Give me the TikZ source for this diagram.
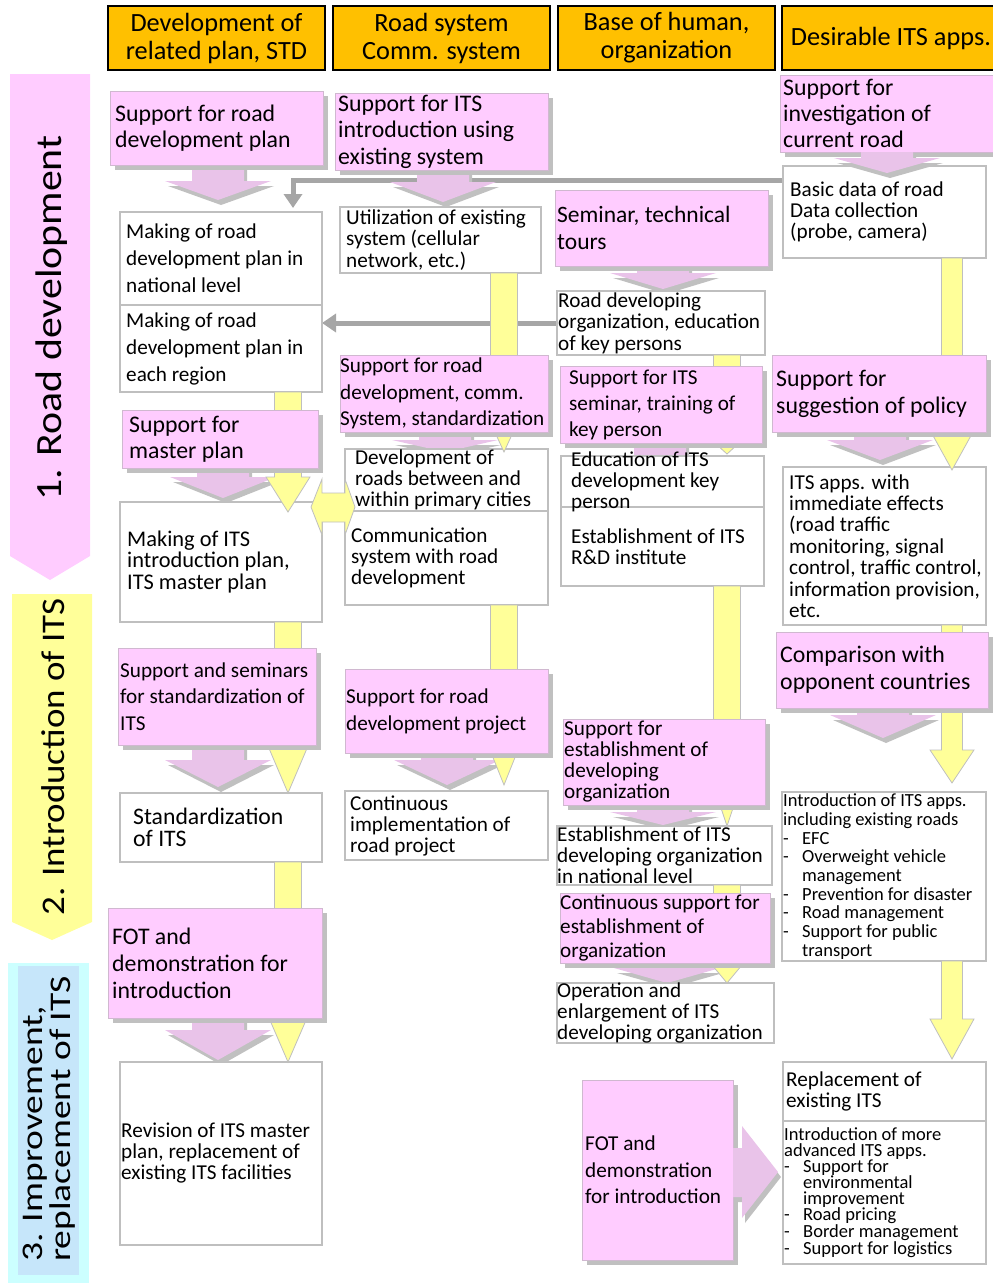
\documentclass[tikz,border=0pt]{standalone}
\usepackage{fontspec}
\usepackage{graphicx}
\setmainfont{Carlito}
\usetikzlibrary{calc,shadows,arrows.meta}
\pgfdeclarelayer{under}
\pgfdeclarelayer{over}
\pgfsetlayers{under,main,over}
\definecolor{hdror}{HTML}{FFC000}
\definecolor{pk}{HTML}{FFCCFF}
\definecolor{pkbd}{HTML}{D0B8D0}
\definecolor{chv}{HTML}{E9C3E9}
\definecolor{yl}{HTML}{FFFF99}
\definecolor{gr}{HTML}{A6A6A6}
\definecolor{bd}{HTML}{BFBFBF}
\definecolor{shd}{HTML}{C0C0C0}
\definecolor{cy}{HTML}{CCFFFF}
\definecolor{cyin}{HTML}{C6E6FA}
\tikzset{
 wbox/.style={draw=bd, line width=1.2pt, fill=white, inner sep=0pt, outer sep=0pt},
 pbox/.style={draw=pkbd, line width=0.8pt, fill=pk, inner sep=0pt, outer sep=0pt,
   drop shadow={shadow xshift=5pt, shadow yshift=-5pt, opacity=1, fill=shd}},
 hdr/.style={draw=black, line width=1.8pt, fill=hdror, inner sep=0pt, outer sep=0pt,
   align=center, font=\fontsize{26.3}{28}\selectfont, anchor=north west},
 tx/.style 2 args={font=\fontsize{#1}{#2}\selectfont, align=left, inner sep=0pt},
 yfill/.style={fill=yl, draw=bd, line width=0.8pt},
 chevst/.style={fill=chv, drop shadow={shadow xshift=3pt, shadow yshift=-5pt, opacity=1, fill=shd}},
 garr/.style={draw=gr, line width=5pt, -{Triangle[width=18pt,length=14pt]}},
 stagelbl/.style={rotate=90, inner sep=0pt},
}
% box with text: style, name, x, y, w, h, text options, text
\newcommand\bx[8]{%
  \node[#1, anchor=north west, minimum width=#5pt, minimum height=#6pt] (#2) at (#3,#4) {};
  \node[#7, anchor=west] (#2-t) at (#2.west) {#8};}
% yellow arrow: [bar half] x, from, to, head length, head half
\newcommand\yarr[6][13.5]{%
  \filldraw[yfill] let \p1=(#3), \p2=(#4) in
   (#2pt-#1pt,\y1) -- (#2pt-#1pt,\y2+#5pt) -- (#2pt-#6pt,\y2+#5pt) -- (#2pt,\y2)
   -- (#2pt+#6pt,\y2+#5pt) -- (#2pt+#1pt,\y2+#5pt) -- (#2pt+#1pt,\y1) -- cycle;}
% pink chevron: x, from, to, head length
\newcommand\chev[4]{%
  \fill[chevst] let \p1=(#2), \p2=(#3) in
   (#1pt-26pt,\y1) -- (#1pt-26pt,\y2+#4pt) -- (#1pt-53pt,\y2+#4pt) -- (#1pt,\y2)
   -- (#1pt+53pt,\y2+#4pt) -- (#1pt+26pt,\y2+#4pt) -- (#1pt+26pt,\y1) -- cycle;}
\newcommand\ldsh{\makebox[19pt][l]{-}}
\newcommand\lind{\hspace*{19pt}}
\begin{document}
\begin{tikzpicture}[x=1pt,y=-1pt]
\useasboundingbox (0,0) rectangle (993,1283);
% ---------- stage arrows ----------
\fill[pk] (10,74) -- (90,74) -- (90,556) -- (50,580) -- (10,556) -- cycle;
\fill[yl] (12,594) -- (92,594) -- (92,922) -- (52,940) -- (12,922) -- cycle;
\fill[cy] (8,963) rectangle (89,1283);
\fill[cyin] (18,966) rectangle (79,1275);
\node[stagelbl, font=\fontsize{37}{37}\selectfont] (s1) at (52,318) {\scalebox{1.13}[1]{1. Road development}};
\node[stagelbl, font=\fontsize{33}{33}\selectfont] (s2) at (53,757) {\scalebox{1.12}[1]{2. Introduction of ITS}};
\node[stagelbl, font=\fontsize{30}{27.5}\selectfont, align=left] (s3) at (49,1119) {\scalebox{1.25}[1]{3. Improvement,}\\\scalebox{1.25}[1]{replacement of ITS}};
% ---------- white boxes ----------
\bx{wbox}{w1}{120}{212}{202}{93}{tx={21.2}{27},xshift=6pt}{Making of road\\development plan in\\national level}
\bx{wbox}{w2}{120}{305}{202}{87}{tx={21.2}{27},xshift=6pt}{Making of road\\development plan in\\each region}
\bx{wbox}{w3}{120}{502}{202}{120}{tx={22.4}{21.5},xshift=7pt}{Making of ITS\\introduction plan,\\ITS master plan}
\bx{wbox}{w4}{120}{793}{202}{69}{tx={23.7}{22},xshift=13pt}{Standardization\\of ITS}
\bx{wbox}{w5}{120}{1062}{202}{183}{tx={21.2}{21},xshift=1pt}{Revision of ITS master\\plan, replacement of\\existing ITS facilities}
\bx{wbox}{w6}{340}{207}{201}{66}{tx={21.2}{21.5},xshift=6pt}{Utilization of existing\\system (cellular\\network, etc.)}
\bx{wbox}{w7}{345}{449}{203}{62}{tx={21.2}{21},xshift=10pt}{Development of\\roads between and\\within primary cities}
\bx{wbox}{w8}{345}{511}{203}{94}{tx={21.2}{21},xshift=6pt}{Communication\\system with road\\development}
\bx{wbox}{w9}{345}{791}{203}{69}{tx={21.2}{21},xshift=5pt}{Continuous\\implementation of\\road project}
\bx{wbox}{w10}{557}{291}{208}{64}{tx={21.2}{21.5},xshift=1pt}{Road developing\\organization, education\\of key persons}
\bx{wbox}{w12}{561}{507}{203}{79}{tx={21.2}{21},xshift=10pt}{Establishment of ITS\\R\&D institute}
\bx{wbox}{w11}{561}{456}{203}{51}{tx={21.2}{21},xshift=10pt}{Education of ITS\\development key\\person}
\bx{wbox}{w13}{557}{826}{215}{59}{tx={21.2}{21},xshift=0pt}{Establishment of ITS\\developing organization\\in national level}
\bx{wbox}{w14}{557}{983}{217}{60}{tx={21.2}{21},xshift=0pt}{Operation and\\enlargement of ITS\\developing organization}
\bx{wbox}{w15}{783}{166}{203}{92}{tx={21.2}{21},xshift=7pt}{Basic data of road\\Data collection\\(probe, camera)}
\bx{wbox}{w16}{783}{467}{203}{158}{tx={21.2}{21.4},xshift=6pt}{ITS apps. with\\immediate effects\\(road traffic\\monitoring, signal\\control, traffic control,\\information provision,\\etc.}
\bx{wbox}{w17}{782}{792}{204}{169}{tx={18.5}{18.7},xshift=1pt}{Introduction of ITS apps.\\including existing roads\\\ldsh EFC\\\ldsh Overweight vehicle\\\lind management\\\ldsh Prevention for disaster\\\ldsh Road management\\\ldsh Support for public\\\lind transport}
\bx{wbox}{w18}{783}{1062}{203}{59}{tx={21.2}{21},xshift=3pt}{Replacement of\\existing ITS}
\bx{wbox}{w19}{783}{1121}{203}{143}{tx={18.5}{16},xshift=1pt}{Introduction of more\\advanced ITS apps.\\\ldsh Support for\\\lind environmental\\\lind improvement\\\ldsh Road pricing\\\ldsh Border management\\\ldsh Support for logistics}
% ---------- pink boxes, headers and top-level connectors ----------
\begin{pgfonlayer}{over}
\bx{pbox}{p1}{110}{91}{213}{74}{tx={23.8}{26},xshift=5pt}{Support for road\\development plan}
\bx{pbox}{p2}{335}{93}{213}{77}{tx={23.8}{26.5},xshift=3pt}{Support for ITS\\introduction using\\existing system}
\bx{pbox}{p3}{555}{190}{213}{76}{tx={23.5}{27},xshift=2pt}{Seminar, technical\\tours}
\bx{pbox}{p4}{780}{75}{215}{77}{tx={23.8}{26},xshift=3pt}{Support for\\investigation of\\current road}
\bx{pbox}{p5}{122}{410}{196}{58}{tx={23.8}{26},xshift=7pt}{Support for\\master plan}
\bx{pbox}{p6}{340}{355}{208}{77}{tx={21.2}{26.5},xshift=0pt}{Support for road\\development, comm.\\System, standardization}
\bx{pbox}{p7}{560}{366}{202}{77}{tx={21.2}{26},xshift=9pt}{Support for ITS\\seminar, training of\\key person}
\bx{pbox}{p8}{772}{355}{214}{77}{tx={23.8}{27},xshift=4pt}{Support for\\suggestion of policy}
\bx{pbox}{p9}{776}{632}{212}{76}{tx={23.8}{27},xshift=4pt}{Comparison with\\opponent countries}
\bx{pbox}{p10}{118}{648}{198}{97}{tx={21.2}{26.5},xshift=2pt}{Support and seminars\\for standardization of\\ITS}
\bx{pbox}{p11}{345}{669}{203}{84}{tx={21.2}{27},xshift=1pt}{Support for road\\development project}
\bx{pbox}{p12}{563}{719}{202}{86}{tx={21.2}{21},xshift=1pt}{Support for\\establishment of\\developing\\organization}
\bx{pbox}{p13}{560}{893}{210}{70}{tx={21.2}{24},xshift=0pt}{Continuous support for\\establishment of\\organization}
\bx{pbox}{p14}{108}{908}{214}{110}{tx={23.8}{27},xshift=4pt}{FOT and\\demonstration for\\introduction}
\bx{pbox}{p15}{582}{1080}{151}{180}{tx={21.2}{26.5},xshift=3pt}{FOT and\\demonstration\\for introduction}
% chevron drawn over its white box
\chev{887}{p4.south}{[yshift=-7pt]w15.north}{15}
% yellow double arrow
\filldraw[yfill] let \p1=(w3.east), \p2=(w8.west) in
  (\x1-11pt,-507pt) -- (\x1,-479pt) -- (\x1,-493pt) -- (\x2,-493pt) -- (\x2,-479pt)
  -- (\x2+10pt,-507pt) -- (\x2,-535pt) -- (\x2,-522pt) -- (\x1,-522pt) -- (\x1,-535pt) -- cycle;
% pink right arrow
\fill[chevst] let \p1=(p15.east), \p2=(w19.west) in
  (\x1,-1148pt) -- (\x1+9pt,-1148pt) -- (\x1+9pt,-1126pt) -- (\x2-5pt,-1172pt)
  -- (\x1+9pt,-1218pt) -- (\x1+9pt,-1197pt) -- (\x1,-1197pt) -- cycle;
% headers
\node[hdr, minimum width=217pt, minimum height=64pt] (h1) at (108,6) {Development of\\related plan, STD};
\node[hdr, minimum width=217pt, minimum height=64pt] (h2) at (333,6) {Road system\\Comm. system};
\node[hdr, minimum width=217pt, minimum height=64pt] (h3) at (558,6) {Base of human,\\organization};
\node[hdr, minimum width=218pt, minimum height=64pt] (h4) at (782,6) {Desirable ITS apps.};
\end{pgfonlayer}
% ---------- yellow arrows (over white boxes, under pink boxes) ----------
\yarr{288}{w2.south}{[yshift=-10pt]w3.north}{35}{22}
\yarr{288}{w3.south}{w4.north}{47}{20}
\yarr{288}{w4.south}{w5.north}{44}{19}
\yarr{504}{w6.south}{[yshift=-3pt]w7.north}{48}{22}
\yarr{504}{w8.south}{[yshift=6pt]w9.north}{55}{22}
\yarr{727}{w10.south}{[yshift=2pt]w11.north}{20}{22}
\yarr{727}{w12.south}{w13.north}{60}{20}
\yarr{727}{w13.south}{w14.north}{24}{20}
\yarr[10.5]{952}{w15.south}{[yshift=-3pt]w16.north}{38}{21}
\yarr[10.5]{952}{w16.south}{[yshift=9pt]w17.north}{33}{22}
\yarr[10.5]{952}{w17.south}{[yshift=3pt]w18.north}{40}{22}
% ---------- gray connectors and chevrons under the white boxes ----------
\begin{pgfonlayer}{under}
\draw[garr] ([yshift=-14pt]w15.north west) -| ([xshift=-29pt,yshift=4pt]w1.north east);
\draw[garr] (w10.west) -- (w10.west -| w2.east);
\chev{218}{p1.south}{[yshift=12pt]w1.north}{19}
\chev{443}{p2.south}{[yshift=5pt]w6.north}{20}
\chev{663}{p3.south}{[yshift=2pt]w10.north}{16}
\chev{223}{p5.south}{[yshift=4pt]w3.north}{21}
\chev{445}{p6.south}{[yshift=-3pt]w7.north}{12}
\chev{660}{p7.south}{[yshift=-20pt]w11.north}{18}
\chev{880}{p8.south}{[yshift=7pt]w16.north}{20}
\chev{883}{p9.south}{[yshift=54pt]w17.north}{23}
\chev{218}{p10.south}{[yshift=6pt]w4.north}{27}
\chev{447}{p11.south}{[yshift=6pt]w9.north}{25}
\chev{663}{p12.south}{[yshift=1pt]w13.north}{13}
\chev{667}{p13.south}{w14.north}{15}
\chev{218}{p14.south}{[yshift=2pt]w5.north}{30}
\end{pgfonlayer}
\end{tikzpicture}
\end{document}
